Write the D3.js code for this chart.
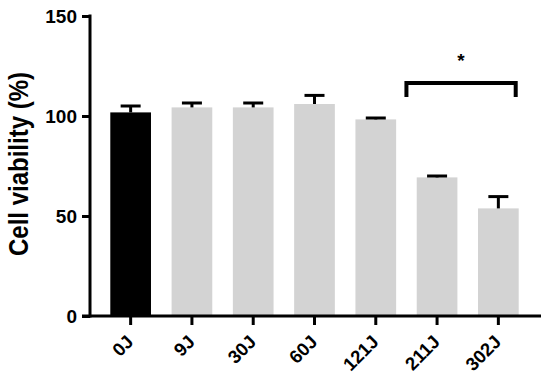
<!DOCTYPE html>
<html>
<head>
<meta charset="utf-8">
<script src="https://cdn.jsdelivr.net/npm/d3@7/dist/d3.min.js"></script>
<style>
  html, body { margin: 0; padding: 0; background: #fff; }
  svg { display: block; }
  text { font-family: "Liberation Sans", Arial, sans-serif; font-weight: bold; }
</style>
</head>
<body>
<svg id="chart" width="550" height="387"></svg>
<script>
const categories = ["0J", "9J", "30J", "60J", "121J", "211J", "302J"];
const means = [101.8, 104.3, 104.3, 106, 98.3, 69.3, 53.8];
const errors = [3.2, 2.2, 2.2, 4.3, 0.7, 0.7, 5.9];
const barColors = ["#000000", "#d3d3d3", "#d3d3d3", "#d3d3d3", "#d3d3d3", "#d3d3d3", "#d3d3d3"];
const yTicks = [0, 50, 100, 150];
const yTitle = "Cell viability (%)";
const sigPair = ["211J", "302J"];
const sigLabel = "*";

const svg = d3.select("#chart");

const x = d3.scaleBand().domain(categories).range([100, 529]).paddingInner(0.336).paddingOuter(0.168);
const y = d3.scaleLinear().domain([0, 150]).range([316, 16]);

svg.selectAll("rect.bar").data(categories).join("rect")
  .attr("class", "bar")
  .attr("x", d => x(d))
  .attr("width", x.bandwidth())
  .attr("y", (d, i) => y(means[i]))
  .attr("height", (d, i) => y(0) - y(means[i]))
  .attr("fill", (d, i) => barColors[i]);

const eg = svg.append("g").attr("stroke", "#000").attr("stroke-width", 3).attr("fill", "none");
categories.forEach((c, i) => {
  const cx = x(c) + x.bandwidth() / 2;
  const top = y(means[i] + errors[i]);
  eg.append("line").attr("x1", cx).attr("x2", cx).attr("y1", y(means[i])).attr("y2", top);
  eg.append("line").attr("x1", cx - 10).attr("x2", cx + 10).attr("y1", top).attr("y2", top);
});

const yAxis = svg.append("g").attr("transform", "translate(90,0)")
  .call(d3.axisLeft(y).tickValues(yTicks).tickSize(8).tickPadding(5).tickFormat(d3.format("d")));
yAxis.attr("font-size", null).attr("font-family", null);
yAxis.select(".domain").remove();
yAxis.append("line").attr("x1", 0).attr("x2", 0).attr("y1", y(0) + 1.5).attr("y2", y(150) - 1.5)
  .attr("stroke", "#000").attr("stroke-width", 3);
yAxis.selectAll(".tick line").attr("stroke-width", 3);
yAxis.selectAll(".tick text").style("font-size", "19px").attr("fill", "#000");

const xAxis = svg.append("g").attr("transform", `translate(0,${y(0)})`)
  .call(d3.axisBottom(x).tickSize(9).tickFormat(""));
xAxis.select(".domain").remove();
xAxis.append("line").attr("x1", 82).attr("x2", 541).attr("y1", 0).attr("y2", 0)
  .attr("stroke", "#000").attr("stroke-width", 3);
xAxis.selectAll(".tick line").attr("stroke-width", 3);

svg.append("g").selectAll("text.xlab").data(categories).join("text")
  .attr("class", "xlab")
  .attr("text-anchor", "end")
  .style("font-size", "18.5px")
  .attr("fill", "#000")
  .attr("transform", d => `translate(${x(d) + x.bandwidth() / 2 + 4},343) rotate(-45)`)
  .text(d => d);

svg.append("text")
  .attr("transform", "translate(28,164) scale(1.15,1) rotate(-90)")
  .attr("text-anchor", "middle")
  .style("font-size", "24px")
  .attr("fill", "#000")
  .text(yTitle);

const bx1 = x(sigPair[0]) - (x.step() - x.bandwidth()) / 2;
const bx2 = x(sigPair[1]) + x.bandwidth() - 3;
const by = 83;
svg.append("path")
  .attr("d", `M${bx1},${by + 14}V${by}H${bx2}V${by + 14}`)
  .attr("fill", "none").attr("stroke", "#000").attr("stroke-width", 4);
svg.append("text")
  .attr("x", (bx1 + bx2) / 2).attr("y", 67)
  .attr("text-anchor", "middle").style("font-size", "19px").attr("fill", "#000")
  .text(sigLabel);
</script>
</body>
</html>
